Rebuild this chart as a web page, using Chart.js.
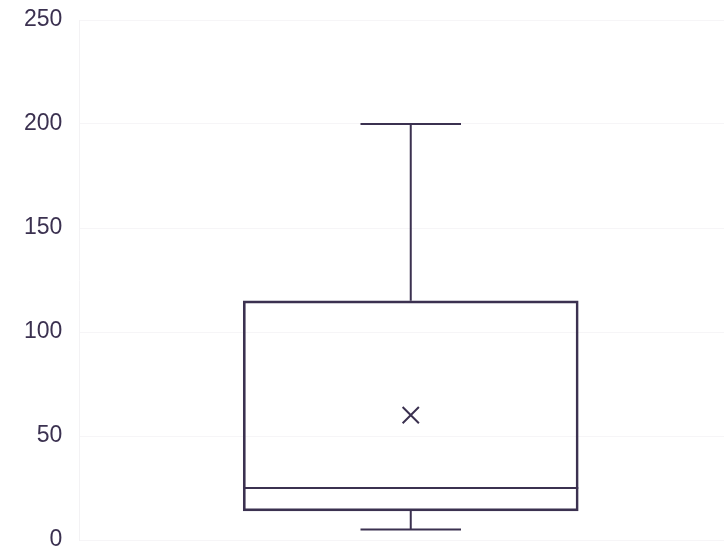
<!DOCTYPE html>
<html>
<head>
<meta charset="utf-8">
<script src="https://cdn.jsdelivr.net/npm/chart.js@4/dist/chart.umd.min.js"></script>
<style>
  html, body { margin: 0; padding: 0; background: #fff; }
  #wrap { width: 724px; height: 552px; }
</style>
</head>
<body>
<div id="wrap"><canvas id="boxChart"></canvas></div>
<script>
// values
const categories = ['Series 1'];
const minVals = [5];
const q1Vals = [14];
const medianVals = [25];
const q3Vals = [115];
const maxVals = [200];
const meanVals = [60];
const yTicks = [0, 50, 100, 150, 200, 250];

const ink = '#3b3150';

// whiskers + median, drawn from the bar element and the y scale
const whiskerPlugin = {
  id: 'whiskers',
  afterDatasetsDraw(chart) {
    const meta = chart.getDatasetMeta(0);
    const y = chart.scales.y;
    const ctx = chart.ctx;
    ctx.save();
    ctx.strokeStyle = ink;
    ctx.lineWidth = 2;
    meta.data.forEach((bar, i) => {
      const half = bar.width / 2;
      const cap = bar.width * 0.15;
      const yMed = y.getPixelForValue(medianVals[i]);
      const yQ1 = y.getPixelForValue(q1Vals[i]);
      const yQ3 = y.getPixelForValue(q3Vals[i]);
      const yMin = y.getPixelForValue(minVals[i]);
      const yMax = y.getPixelForValue(maxVals[i]);
      ctx.beginPath();
      ctx.moveTo(bar.x - half, yMed); ctx.lineTo(bar.x + half, yMed);
      ctx.moveTo(bar.x, yQ3); ctx.lineTo(bar.x, yMax);
      ctx.moveTo(bar.x - cap, yMax); ctx.lineTo(bar.x + cap, yMax);
      ctx.moveTo(bar.x, yQ1); ctx.lineTo(bar.x, yMin);
      ctx.moveTo(bar.x - cap, yMin); ctx.lineTo(bar.x + cap, yMin);
      ctx.stroke();
    });
    ctx.restore();
  }
};

new Chart(document.getElementById('boxChart'), {
  type: 'bar',
  data: {
    labels: categories,
    datasets: [{
      label: 'box',
      data: categories.map((_, i) => ({ x: i, y: [q1Vals[i], q3Vals[i]] })),
      backgroundColor: 'rgba(0,0,0,0)',
      borderColor: ink,
      borderWidth: 2,
      borderSkipped: false,
      barThickness: 335
    }, {
      type: 'scatter',
      label: 'mean',
      data: categories.map((_, i) => ({ x: i, y: meanVals[i] })),
      pointStyle: 'crossRot',
      radius: 11.5,
      borderColor: ink,
      borderWidth: 2
    }]
  },
  options: {
    responsive: true,
    maintainAspectRatio: false,
    animation: false,
    layout: { autoPadding: false, padding: { left: 7, top: 20, right: 0, bottom: 12 } },
    plugins: { legend: { display: false }, tooltip: { enabled: false } },
    scales: {
      x: { type: 'linear', min: -1, max: 0.94, display: false },
      y: {
        min: 0,
        max: 250,
        afterBuildTicks: axis => { axis.ticks = yTicks.map(v => ({ value: v })); },
        afterFit: axis => { axis.paddingTop = 0; axis.paddingBottom = 0; },
        ticks: { color: ink, padding: 17, font: { family: 'Liberation Sans, Arial', size: 23 } },
        grid: { color: '#f6f5f7', drawTicks: false },
        border: { color: '#f3f2f4' }
      }
    }
  },
  plugins: [whiskerPlugin]
});
</script>
</body>
</html>
